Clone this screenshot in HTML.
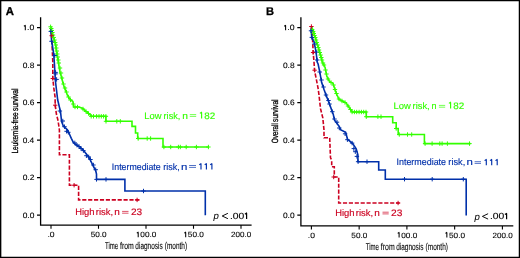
<!DOCTYPE html>
<html><head><meta charset="utf-8"><style>
html,body{margin:0;padding:0;background:#fff;}
svg{display:block;will-change:transform;text-rendering:geometricPrecision;font-family:"Liberation Sans",sans-serif;}
</style></head><body>
<svg width="520" height="258" viewBox="0 0 520 258" xmlns="http://www.w3.org/2000/svg">
<rect x="0" y="0" width="520" height="258" fill="#fff"/>
<path d="M0.6,0V258M0,0.6H520" stroke="#000" stroke-width="1.5" fill="none"/><path d="M519.4,0V258M0,257.35H520" stroke="#000" stroke-width="1.3" fill="none"/>
<text x="5.7" y="14.7" font-size="11.3" font-weight="bold" stroke="#000" stroke-width="0.35">A</text>
<text x="266.1" y="14.6" font-size="11.1" font-weight="bold" stroke="#000" stroke-width="0.25">B</text>
<path d="M40.6,17.3V225.7M40.0,225.1H251.6" stroke="#000" stroke-width="1.3" fill="none"/>
<path d="M37.0,27.6H40.6M37.0,65.1H40.6M37.0,102.6H40.6M37.0,140.1H40.6M37.0,177.6H40.6M37.0,215.1H40.6" stroke="#000" stroke-width="1.2"/>
<path d="M25.30,30.35V25.30M25.62,25.15L23.90,26.25" stroke="#000" stroke-width="1.05" fill="none"/>
<text x="27.02" y="30.35" font-size="7.8" fill="#000" textLength="7.27" lengthAdjust="spacingAndGlyphs" stroke="#000" stroke-width="0.1">.0</text>
<text x="22.66" y="67.85" font-size="7.8" fill="#000" textLength="11.67" lengthAdjust="spacingAndGlyphs" stroke="#000" stroke-width="0.1">0.8</text>
<text x="22.66" y="105.35" font-size="7.8" fill="#000" textLength="11.67" lengthAdjust="spacingAndGlyphs" stroke="#000" stroke-width="0.1">0.6</text>
<text x="22.67" y="142.85" font-size="7.8" fill="#000" textLength="11.58" lengthAdjust="spacingAndGlyphs" stroke="#000" stroke-width="0.1">0.4</text>
<text x="22.66" y="180.35" font-size="7.8" fill="#000" textLength="11.76" lengthAdjust="spacingAndGlyphs" stroke="#000" stroke-width="0.1">0.2</text>
<text x="22.66" y="217.85" font-size="7.8" fill="#000" textLength="11.67" lengthAdjust="spacingAndGlyphs" stroke="#000" stroke-width="0.1">0.0</text>
<path d="M51.00,225.1V228.7M98.50,225.1V228.7M146.00,225.1V228.7M193.50,225.1V228.7M241.00,225.1V228.7" stroke="#000" stroke-width="1.1"/>
<text x="47.43" y="237.20" font-size="7.6" fill="#000" textLength="7.15" lengthAdjust="spacingAndGlyphs" stroke="#000" stroke-width="0.1">.0</text>
<text x="90.72" y="237.20" font-size="7.6" fill="#000" textLength="15.93" lengthAdjust="spacingAndGlyphs" stroke="#000" stroke-width="0.1">50.0</text>
<path d="M138.20,237.20V232.15M138.51,232.00L136.80,233.10" stroke="#000" stroke-width="1.05" fill="none"/>
<text x="140.32" y="237.20" font-size="7.6" fill="#000" textLength="16.03" lengthAdjust="spacingAndGlyphs" stroke="#000" stroke-width="0.1">00.0</text>
<path d="M185.70,237.20V232.15M186.01,232.00L184.30,233.10" stroke="#000" stroke-width="1.05" fill="none"/>
<text x="187.82" y="237.20" font-size="7.6" fill="#000" textLength="16.03" lengthAdjust="spacingAndGlyphs" stroke="#000" stroke-width="0.1">50.0</text>
<text x="231.10" y="237.20" font-size="7.6" fill="#000" textLength="20.14" lengthAdjust="spacingAndGlyphs" stroke="#000" stroke-width="0.1">200.0</text>
<text x="104.98" y="249.30" font-size="9.8" fill="#000" textLength="13.19" lengthAdjust="spacingAndGlyphs" stroke="#000" stroke-width="0.1">Time</text>
<text x="120.03" y="249.30" font-size="9.8" fill="#000" textLength="13.85" lengthAdjust="spacingAndGlyphs" stroke="#000" stroke-width="0.1">from</text>
<text x="135.34" y="249.30" font-size="9.8" fill="#000" textLength="27.39" lengthAdjust="spacingAndGlyphs" stroke="#000" stroke-width="0.1">diagnosis</text>
<text x="164.81" y="249.30" font-size="9.8" fill="#000" textLength="22.31" lengthAdjust="spacingAndGlyphs" stroke="#000" stroke-width="0.1">(month)</text>
<text transform="translate(18.30,153.52) rotate(-90)" x="0" y="0" font-size="9.0" fill="#000" textLength="41.19" lengthAdjust="spacingAndGlyphs" stroke="#000" stroke-width="0.3">Leukemia-free</text>
<text transform="translate(18.30,110.90) rotate(-90)" x="0" y="0" font-size="9.0" fill="#000" textLength="22.36" lengthAdjust="spacingAndGlyphs" stroke="#000" stroke-width="0.3">survival</text>
<path d="M51.1,27.7 L51.7,35.7 L52.3,50 L52.8,62 L52.8,78.5 L53.8,87.9 L55.1,97.2 L55.2,105.2 L56.4,114 L58.1,120.9 L59.1,127.9 L59.4,130 L59.4,154.8 L69.4,154.8 L69.4,185.2 L78.6,185.2 L78.6,199.9 L139.4,199.9" stroke="#cc0020" stroke-width="1.6" fill="none" stroke-dasharray="4.15 1.75" stroke-dashoffset="-0.9"/>
<path d="M51.1,27.7 L50.9,31.3 L51.6,41.2 L52.8,48 L53.8,55 L54.5,65 L55.3,80 L56.5,90 L57.7,100 L60.5,111.6 L61.6,121.5 L63.4,126.2 L67.4,129.7 L68.5,132 L71.3,138.3 L73.6,142.9 L80.6,147.6 L84,151 L88.7,156.9 L92.2,163.8 L95.7,170.8 L96.5,174 L96.5,179.4 L124.9,179.4 L124.9,191 L205.3,191 L205.3,215.2" stroke="#0030aa" stroke-width="1.6" fill="none"/>
<path d="M51.1,27.7 L51.3,30 L53,36 L55.5,44.5 L56.2,50 L57.4,57 L58.3,62 L60.2,73.3 L61.2,76 L63.5,85 L65.4,90 L67.5,95.4 L70.2,99.5 L72.9,101.5 L73.6,107 L79,107 L82.4,108.3 L86.4,111.7 L91.2,115.5 L91.2,116.3 L105.9,116.3 L105.9,121.3 L132,121.3 L132,126.4 L135.5,126.4 L135.5,133 L137.7,133 L137.7,138.5 L163,138.5 L163,147.0 L209,147.0" stroke="#33ff00" stroke-width="1.6" fill="none"/>
<path d="M48.4,26.8H52.8M50.6,24.6V29.0M49.1,28.5H53.5M51.3,26.3V30.7M49.6,30.5H54.0M51.8,28.3V32.7M50.2,32.5H54.6M52.4,30.3V34.7M50.8,35.0H55.2M53.0,32.8V37.2M51.5,37.5H55.9M53.7,35.3V39.7M52.3,40.0H56.7M54.5,37.8V42.2M53.0,42.5H57.4M55.2,40.3V44.7M53.6,45.0H58.0M55.8,42.8V47.2M54.1,48.0H58.5M56.3,45.8V50.2M54.6,51.0H59.0M56.8,48.8V53.2M55.1,54.0H59.5M57.3,51.8V56.2M55.6,57.0H60.0M57.8,54.8V59.2M56.1,60.0H60.5M58.3,57.8V62.2M56.6,63.0H61.0M58.8,60.8V65.2M57.8,68.0H62.2M60.0,65.8V70.2M58.8,73.0H63.2M61.0,70.8V75.2M59.8,78.0H64.2M62.0,75.8V80.2M61.3,84.0H65.7M63.5,81.8V86.2M62.8,88.0H67.2M65.0,85.8V90.2M64.3,92.0H68.7M66.5,89.8V94.2M66.3,97.0H70.7M68.5,94.8V99.2M68.3,100.0H72.7M70.5,97.8V102.2M71.1,104.0H75.5M73.3,101.8V106.2M72.8,107.0H77.2M75.0,104.8V109.2M75.3,107.0H79.7M77.5,104.8V109.2M80.8,109.0H85.2M83.0,106.8V111.2M83.8,111.5H88.2M86.0,109.3V113.7M86.3,113.5H90.7M88.5,111.3V115.7M89.0,116.3H93.4M91.2,114.1V118.5M91.3,116.3H95.7M93.5,114.1V118.5M94.4,116.3H98.8M96.6,114.1V118.5M96.8,116.3H101.2M99.0,114.1V118.5M99.1,116.3H103.5M101.3,114.1V118.5M101.4,116.3H105.8M103.6,114.1V118.5M103.7,116.3H108.1M105.9,114.1V118.5M103.8,121.3H108.2M106.0,119.1V123.5M114.6,121.3H119.0M116.8,119.1V123.5M118.1,121.3H122.5M120.3,119.1V123.5M136.0,138.5H140.4M138.2,136.3V140.7M145.0,138.5H149.4M147.2,136.3V140.7M148.4,138.5H152.8M150.6,136.3V140.7M161.7,147.0H166.1M163.9,144.8V149.2M168.5,147.0H172.9M170.7,144.8V149.2M176.2,147.0H180.6M178.4,144.8V149.2M178.1,147.0H182.5M180.3,144.8V149.2M184.0,147.0H188.4M186.2,144.8V149.2M194.2,147.0H198.6M196.4,144.8V149.2M206.2,147.0H210.6M208.4,144.8V149.2" stroke="#33ff00" stroke-width="1.0" fill="none"/>
<path d="M48.6,31.4H53.0M50.8,29.2V33.6M49.3,41.3H53.7M51.5,39.1V43.5M52.5,55.5H56.9M54.7,53.3V57.7M53.4,72.4H57.8M55.6,70.2V74.6M53.4,73.9H57.8M55.6,71.7V76.1M54.4,79.4H58.8M56.6,77.2V81.6M57.7,111.0H62.1M59.9,108.8V113.2M60.6,121.0H65.0M62.8,118.8V123.2M62.3,126.7H66.7M64.5,124.5V128.9M64.4,131.3H68.8M66.6,129.1V133.5M66.1,132.3H70.5M68.3,130.1V134.5M72.6,142.9H77.0M74.8,140.7V145.1M74.8,145.2H79.2M77.0,143.0V147.4M76.8,146.5H81.2M79.0,144.3V148.7M78.8,148.5H83.2M81.0,146.3V150.7M81.2,150.6H85.6M83.4,148.4V152.8M84.2,155.7H88.6M86.4,153.5V157.9M86.5,156.9H90.9M88.7,154.7V159.1M88.3,159.5H92.7M90.5,157.3V161.7M91.2,165.0H95.6M93.4,162.8V167.2M93.5,169.7H97.9M95.7,167.5V171.9M94.3,179.4H98.7M96.5,177.2V181.6M103.8,179.4H108.2M106.0,177.2V181.6M141.3,191.0H145.7M143.5,188.8V193.2" stroke="#0030aa" stroke-width="1.0" fill="none"/>
<path d="M49.5,35.7H53.9M51.7,33.5V37.9M50.6,78.5H55.0M52.8,76.3V80.7M53.0,105.2H57.4M55.2,103.0V107.4M71.9,185.2H76.3M74.1,183.0V187.4M134.9,199.9H139.3M137.1,197.7V202.1" stroke="#cc0020" stroke-width="1.0" fill="none"/>
<text x="144.25" y="118.70" font-size="9.4" fill="#33ff00" textLength="17.20" lengthAdjust="spacingAndGlyphs" stroke="#33ff00" stroke-width="0.15">Low</text><text x="163.56" y="118.70" font-size="9.4" fill="#33ff00" textLength="16.79" lengthAdjust="spacingAndGlyphs" stroke="#33ff00" stroke-width="0.15">risk,</text><text x="182.18" y="118.70" font-size="9.4" fill="#33ff00" textLength="5.69" lengthAdjust="spacingAndGlyphs" stroke="#33ff00" stroke-width="0.15">n</text><path d="M189.80,114.60H196.20M189.80,116.40H196.20" stroke="#33ff00" stroke-width="0.85" stroke-opacity="0.8" fill="none"/><path d="M201.60,118.60V112.15M201.94,112.00L199.90,113.40" stroke="#33ff00" stroke-width="1.15" fill="none"/><text x="204.36" y="118.70" font-size="9.4" fill="#33ff00" textLength="10.96" lengthAdjust="spacingAndGlyphs" stroke="#33ff00" stroke-width="0.15">82</text>
<text x="111.81" y="169.50" font-size="9.4" fill="#0030aa" textLength="48.92" lengthAdjust="spacingAndGlyphs" stroke="#0030aa" stroke-width="0.15">Intermediate</text><text x="163.37" y="169.50" font-size="9.4" fill="#0030aa" textLength="16.47" lengthAdjust="spacingAndGlyphs" stroke="#0030aa" stroke-width="0.15">risk,</text><text x="180.90" y="169.50" font-size="9.4" fill="#0030aa" textLength="6.36" lengthAdjust="spacingAndGlyphs" stroke="#0030aa" stroke-width="0.15">n</text><path d="M189.10,165.50H196.00M189.10,167.40H196.00" stroke="#0030aa" stroke-width="0.85" stroke-opacity="0.8" fill="none"/><path d="M201.00,169.40V163.55M201.34,163.40L199.30,164.80" stroke="#0030aa" stroke-width="1.15" fill="none"/><path d="M206.40,169.40V163.55M206.75,163.40L204.70,164.80" stroke="#0030aa" stroke-width="1.15" fill="none"/><path d="M211.90,169.40V163.55M212.25,163.40L210.20,164.80" stroke="#0030aa" stroke-width="1.15" fill="none"/>
<text x="75.15" y="214.60" font-size="9.4" fill="#cc0020" textLength="19.28" lengthAdjust="spacingAndGlyphs" stroke="#cc0020" stroke-width="0.15">High</text><text x="95.84" y="214.60" font-size="9.4" fill="#cc0020" textLength="17.34" lengthAdjust="spacingAndGlyphs" stroke="#cc0020" stroke-width="0.15">risk,</text><text x="114.30" y="214.60" font-size="9.4" fill="#cc0020" textLength="5.56" lengthAdjust="spacingAndGlyphs" stroke="#cc0020" stroke-width="0.15">n</text><path d="M122.10,211.40H128.50M122.10,213.20H128.50" stroke="#cc0020" stroke-width="0.85" stroke-opacity="0.8" fill="none"/><text x="131.00" y="214.60" font-size="9.4" fill="#cc0020" textLength="11.23" lengthAdjust="spacingAndGlyphs" stroke="#cc0020" stroke-width="0.15">23</text>
<text x="213.5" y="219.1" font-size="9.6" font-style="italic" stroke="#000" stroke-width="0.05">p</text><path d="M227.9,213.3L222.2,216.0L227.9,218.7" stroke="#000" stroke-width="0.95" fill="none"/><text x="229.97" y="218.90" font-size="9.0" fill="#000" textLength="14.34" lengthAdjust="spacingAndGlyphs" stroke="#000" stroke-width="0.1">.00</text><path d="M246.60,218.90V212.95M246.96,212.80L244.90,214.20" stroke="#000" stroke-width="1.2" fill="none"/>
<path d="M300.9,17.3V226.5M300.29999999999995,225.9H513.3" stroke="#000" stroke-width="1.3" fill="none"/>
<path d="M297.3,27.6H300.9M297.3,65.1H300.9M297.3,102.6H300.9M297.3,140.1H300.9M297.3,177.6H300.9M297.3,215.1H300.9" stroke="#000" stroke-width="1.2"/>
<path d="M285.60,30.35V25.30M285.91,25.15L284.20,26.25" stroke="#000" stroke-width="1.05" fill="none"/>
<text x="287.32" y="30.35" font-size="7.8" fill="#000" textLength="7.27" lengthAdjust="spacingAndGlyphs" stroke="#000" stroke-width="0.1">.0</text>
<text x="282.96" y="67.85" font-size="7.8" fill="#000" textLength="11.67" lengthAdjust="spacingAndGlyphs" stroke="#000" stroke-width="0.1">0.8</text>
<text x="282.96" y="105.35" font-size="7.8" fill="#000" textLength="11.67" lengthAdjust="spacingAndGlyphs" stroke="#000" stroke-width="0.1">0.6</text>
<text x="282.97" y="142.85" font-size="7.8" fill="#000" textLength="11.58" lengthAdjust="spacingAndGlyphs" stroke="#000" stroke-width="0.1">0.4</text>
<text x="282.96" y="180.35" font-size="7.8" fill="#000" textLength="11.76" lengthAdjust="spacingAndGlyphs" stroke="#000" stroke-width="0.1">0.2</text>
<text x="282.96" y="217.85" font-size="7.8" fill="#000" textLength="11.67" lengthAdjust="spacingAndGlyphs" stroke="#000" stroke-width="0.1">0.0</text>
<path d="M311.40,225.9V229.5M359.15,225.9V229.5M406.90,225.9V229.5M454.65,225.9V229.5M502.40,225.9V229.5" stroke="#000" stroke-width="1.1"/>
<text x="307.83" y="237.50" font-size="7.6" fill="#000" textLength="7.15" lengthAdjust="spacingAndGlyphs" stroke="#000" stroke-width="0.1">.0</text>
<text x="351.37" y="237.50" font-size="7.6" fill="#000" textLength="15.93" lengthAdjust="spacingAndGlyphs" stroke="#000" stroke-width="0.1">50.0</text>
<path d="M399.10,237.50V232.45M399.41,232.30L397.70,233.40" stroke="#000" stroke-width="1.05" fill="none"/>
<text x="401.22" y="237.50" font-size="7.6" fill="#000" textLength="16.03" lengthAdjust="spacingAndGlyphs" stroke="#000" stroke-width="0.1">00.0</text>
<path d="M446.85,237.50V232.45M447.16,232.30L445.45,233.40" stroke="#000" stroke-width="1.05" fill="none"/>
<text x="448.97" y="237.50" font-size="7.6" fill="#000" textLength="16.03" lengthAdjust="spacingAndGlyphs" stroke="#000" stroke-width="0.1">50.0</text>
<text x="492.50" y="237.50" font-size="7.6" fill="#000" textLength="20.14" lengthAdjust="spacingAndGlyphs" stroke="#000" stroke-width="0.1">200.0</text>
<text x="365.78" y="249.60" font-size="9.8" fill="#000" textLength="13.19" lengthAdjust="spacingAndGlyphs" stroke="#000" stroke-width="0.1">Time</text>
<text x="380.83" y="249.60" font-size="9.8" fill="#000" textLength="13.85" lengthAdjust="spacingAndGlyphs" stroke="#000" stroke-width="0.1">from</text>
<text x="396.14" y="249.60" font-size="9.8" fill="#000" textLength="27.39" lengthAdjust="spacingAndGlyphs" stroke="#000" stroke-width="0.1">diagnosis</text>
<text x="425.61" y="249.60" font-size="9.8" fill="#000" textLength="22.31" lengthAdjust="spacingAndGlyphs" stroke="#000" stroke-width="0.1">(month)</text>
<text transform="translate(278.20,143.32) rotate(-90)" x="0" y="0" font-size="9.0" fill="#000" textLength="20.25" lengthAdjust="spacingAndGlyphs" stroke="#000" stroke-width="0.3">Overall</text>
<text transform="translate(278.20,121.90) rotate(-90)" x="0" y="0" font-size="9.0" fill="#000" textLength="22.46" lengthAdjust="spacingAndGlyphs" stroke="#000" stroke-width="0.3">survival</text>
<path d="M311.4,26.5 L312.6,40 L313.2,52.5 L314,62 L314.6,70.9 L316.4,79.7 L318.1,88.4 L319,95 L320.5,108.6 L322.8,117.9 L324,130 L324,137.8 L329.7,137.8 L330.5,157.9 L331.7,160.2 L331.7,166.8 L334.3,166.8 L334.3,177 L338.7,177 L338.7,203 L399.7,203" stroke="#cc0020" stroke-width="1.6" fill="none" stroke-dasharray="4.15 1.75" stroke-dashoffset="0"/>
<path d="M311.4,27.7 L311.2,31 L311.8,37.4 L314.1,42 L316.1,52 L317.2,62 L318.1,64 L319.9,72.7 L321.6,82.3 L324.2,90.1 L326,95 L328.6,101.6 L333.3,114.4 L334.4,120 L336,122 L339.6,127 L340.5,129.6 L345.7,132.2 L347.5,139.2 L352.7,143.6 L356.2,148.8 L357.9,154.9 L357.9,161.7 L378.7,161.7 L378.7,170 L385.3,170 L385.3,179.2 L466.2,179.2 L466.2,215.6" stroke="#0030aa" stroke-width="1.6" fill="none"/>
<path d="M311.6,27.5 L312.5,29 L313.5,31 L314.5,35 L316,40 L317.6,45 L319.6,52 L322.3,62 L325.1,67.5 L326.8,76.2 L329.5,81.4 L332.9,83.2 L334.7,88.4 L336.4,93.6 L339,99.3 L346,102.8 L350.7,109.8 L352.3,112 L366.3,112 L366.3,116.7 L392.7,116.7 L392.7,122.8 L396.2,122.8 L396.2,128.5 L398.2,128.5 L398.2,134.5 L424.4,134.5 L424.4,143.6 L470.5,143.6" stroke="#33ff00" stroke-width="1.6" fill="none"/>
<path d="M310.0,29.5H314.4M312.2,27.3V31.7M311.0,31.5H315.4M313.2,29.3V33.7M311.6,33.5H316.0M313.8,31.3V35.7M312.3,35.5H316.7M314.5,33.3V37.7M313.1,37.5H317.5M315.3,35.3V39.7M313.8,40.0H318.2M316.0,37.8V42.2M314.5,42.5H318.9M316.7,40.3V44.7M315.4,45.0H319.8M317.6,42.8V47.2M316.1,47.5H320.5M318.3,45.3V49.7M316.8,50.0H321.2M319.0,47.8V52.2M317.6,52.5H322.0M319.8,50.3V54.7M318.4,55.0H322.8M320.6,52.8V57.2M319.1,57.5H323.5M321.3,55.3V59.7M319.8,60.0H324.2M322.0,57.8V62.2M320.8,63.0H325.2M323.0,60.8V65.2M321.8,65.0H326.2M324.0,62.8V67.2M323.3,70.0H327.7M325.5,67.8V72.2M324.3,74.0H328.7M326.5,71.8V76.2M325.8,79.0H330.2M328.0,76.8V81.2M328.8,82.5H333.2M331.0,80.3V84.7M331.3,85.0H335.7M333.5,82.8V87.2M332.8,89.5H337.2M335.0,87.3V91.7M334.3,93.5H338.7M336.5,91.3V95.7M336.8,99.0H341.2M339.0,96.8V101.2M339.8,101.0H344.2M342.0,98.8V103.2M342.8,102.5H347.2M345.0,100.3V104.7M345.8,106.0H350.2M348.0,103.8V108.2M348.3,109.5H352.7M350.5,107.3V111.7M349.9,112.0H354.3M352.1,109.8V114.2M352.2,112.0H356.6M354.4,109.8V114.2M354.5,112.0H358.9M356.7,109.8V114.2M356.9,112.0H361.3M359.1,109.8V114.2M359.2,112.0H363.6M361.4,109.8V114.2M361.5,112.0H365.9M363.7,109.8V114.2M363.8,112.0H368.2M366.0,109.8V114.2M364.1,116.7H368.5M366.3,114.5V118.9M375.7,116.7H380.1M377.9,114.5V118.9M378.8,116.7H383.2M381.0,114.5V118.9M394.0,128.5H398.4M396.2,126.3V130.7M397.1,134.5H401.5M399.3,132.3V136.7M405.3,134.5H409.7M407.5,132.3V136.7M409.5,134.5H413.9M411.7,132.3V136.7M422.9,143.6H427.3M425.1,141.4V145.8M429.9,143.6H434.3M432.1,141.4V145.8M437.6,143.6H442.0M439.8,141.4V145.8M439.9,143.6H444.3M442.1,141.4V145.8M445.2,143.6H449.6M447.4,141.4V145.8M467.3,143.6H471.7M469.5,141.4V145.8" stroke="#33ff00" stroke-width="1.0" fill="none"/>
<path d="M308.8,30.8H313.2M311.0,28.6V33.0M309.6,37.4H314.0M311.8,35.2V39.6M312.3,44.0H316.7M314.5,41.8V46.2M313.9,52.0H318.3M316.1,49.8V54.2M315.0,60.0H319.4M317.2,57.8V62.2M317.5,72.0H321.9M319.7,69.8V74.2M319.3,80.0H323.7M321.5,77.8V82.2M321.3,87.0H325.7M323.5,84.8V89.2M323.8,95.0H328.2M326.0,92.8V97.2M326.3,100.5H330.7M328.5,98.3V102.7M327.3,104.0H331.7M329.5,101.8V106.2M330.1,111.7H334.5M332.3,109.5V113.9M332.3,119.0H336.7M334.5,116.8V121.2M334.8,122.2H339.2M337.0,120.0V124.4M337.1,128.0H341.5M339.3,125.8V130.2M342.9,133.8H347.3M345.1,131.6V136.0M345.2,139.7H349.6M347.4,137.5V141.9M349.9,143.1H354.3M352.1,140.9V145.3M351.6,148.6H356.0M353.8,146.4V150.8M353.1,151.7H357.5M355.3,149.5V153.9M354.7,156.4H359.1M356.9,154.2V158.6M355.9,161.7H360.3M358.1,159.5V163.9M364.8,161.7H369.2M367.0,159.5V163.9M402.3,179.2H406.7M404.5,177.0V181.4M430.0,179.2H434.4M432.2,177.0V181.4M461.1,179.2H465.5M463.3,177.0V181.4" stroke="#0030aa" stroke-width="1.0" fill="none"/>
<path d="M309.2,26.5H313.6M311.4,24.3V28.7M310.9,52.5H315.3M313.1,50.3V54.7M312.4,70.2H316.8M314.6,68.0V72.4M331.5,177.0H335.9M333.7,174.8V179.2M395.9,203.0H400.3M398.1,200.8V205.2" stroke="#cc0020" stroke-width="1.0" fill="none"/>
<text x="393.55" y="108.70" font-size="9.4" fill="#33ff00" textLength="17.20" lengthAdjust="spacingAndGlyphs" stroke="#33ff00" stroke-width="0.15">Low</text><text x="412.55" y="108.70" font-size="9.4" fill="#33ff00" textLength="17.12" lengthAdjust="spacingAndGlyphs" stroke="#33ff00" stroke-width="0.15">risk,</text><text x="431.57" y="108.70" font-size="9.4" fill="#33ff00" textLength="5.03" lengthAdjust="spacingAndGlyphs" stroke="#33ff00" stroke-width="0.15">n</text><path d="M438.90,105.40H445.20M438.90,107.20H445.20" stroke="#33ff00" stroke-width="0.85" stroke-opacity="0.8" fill="none"/><path d="M450.60,108.60V102.15M450.95,102.00L448.90,103.40" stroke="#33ff00" stroke-width="1.15" fill="none"/><text x="453.36" y="108.70" font-size="9.4" fill="#33ff00" textLength="10.96" lengthAdjust="spacingAndGlyphs" stroke="#33ff00" stroke-width="0.15">82</text>
<text x="396.50" y="165.40" font-size="9.4" fill="#0030aa" textLength="49.54" lengthAdjust="spacingAndGlyphs" stroke="#0030aa" stroke-width="0.15">Intermediate</text><text x="448.35" y="165.40" font-size="9.4" fill="#0030aa" textLength="16.90" lengthAdjust="spacingAndGlyphs" stroke="#0030aa" stroke-width="0.15">risk,</text><text x="466.40" y="165.40" font-size="9.4" fill="#0030aa" textLength="6.36" lengthAdjust="spacingAndGlyphs" stroke="#0030aa" stroke-width="0.15">n</text><path d="M474.60,161.70H481.00M474.60,163.40H481.00" stroke="#0030aa" stroke-width="0.85" stroke-opacity="0.8" fill="none"/><path d="M486.30,165.30V159.35M486.65,159.20L484.60,160.60" stroke="#0030aa" stroke-width="1.15" fill="none"/><path d="M491.70,165.30V159.35M492.05,159.20L490.00,160.60" stroke="#0030aa" stroke-width="1.15" fill="none"/><path d="M497.20,165.30V159.35M497.55,159.20L495.50,160.60" stroke="#0030aa" stroke-width="1.15" fill="none"/>
<text x="335.15" y="215.60" font-size="9.4" fill="#cc0020" textLength="19.28" lengthAdjust="spacingAndGlyphs" stroke="#cc0020" stroke-width="0.15">High</text><text x="355.84" y="215.60" font-size="9.4" fill="#cc0020" textLength="17.34" lengthAdjust="spacingAndGlyphs" stroke="#cc0020" stroke-width="0.15">risk,</text><text x="374.30" y="215.60" font-size="9.4" fill="#cc0020" textLength="5.56" lengthAdjust="spacingAndGlyphs" stroke="#cc0020" stroke-width="0.15">n</text><path d="M382.50,212.20H388.70M382.50,213.90H388.70" stroke="#cc0020" stroke-width="0.85" stroke-opacity="0.8" fill="none"/><text x="390.99" y="215.60" font-size="9.4" fill="#cc0020" textLength="11.34" lengthAdjust="spacingAndGlyphs" stroke="#cc0020" stroke-width="0.15">23</text>
<text x="474.5" y="219.5" font-size="9.6" font-style="italic" stroke="#000" stroke-width="0.05">p</text><path d="M488.1,213.7L482.4,216.4L488.1,219.1" stroke="#000" stroke-width="0.95" fill="none"/><text x="489.97" y="219.30" font-size="9.0" fill="#000" textLength="14.34" lengthAdjust="spacingAndGlyphs" stroke="#000" stroke-width="0.1">.00</text><path d="M506.60,219.30V213.35M506.96,213.20L504.90,214.60" stroke="#000" stroke-width="1.2" fill="none"/>
</svg>
</body></html>
